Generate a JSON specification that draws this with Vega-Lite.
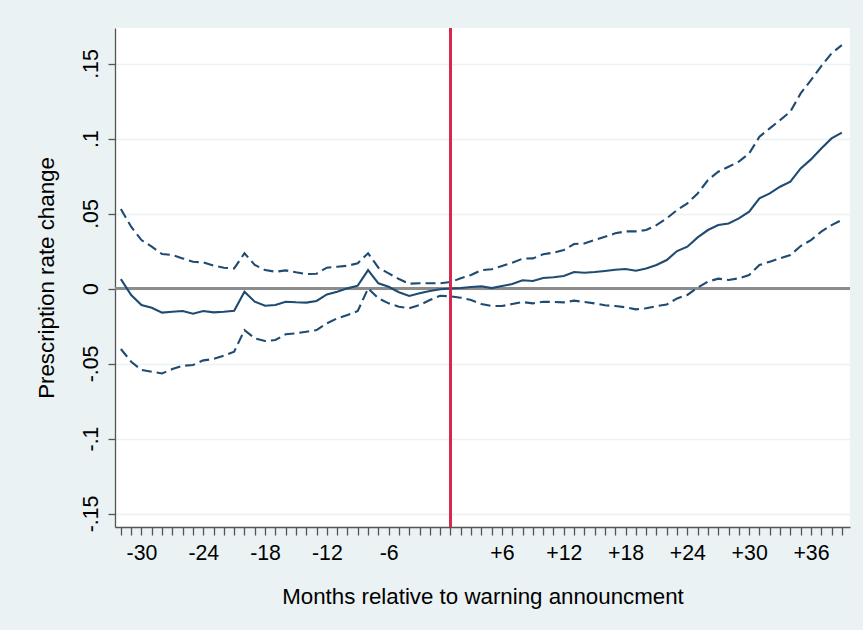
{
  "$schema": "https://vega.github.io/schema/vega-lite/v6.json",
  "width": 735,
  "height": 499,
  "autosize": "none",
  "padding": {"left": 115, "top": 28, "right": 13, "bottom": 103},
  "background": "#eaf2f3",
  "config": {
    "view": {"fill": "white", "stroke": null},
    "font": "Liberation Sans",
    "axis": {"labelFont": "Liberation Sans", "titleFont": "Liberation Sans", "labelColor": "#000", "titleColor": "#000", "titleFontWeight": "normal", "labelFontSize": 21.3, "titleFontSize": 22.3, "domainColor": "#555", "tickColor": "#555", "domainWidth": 1.3, "tickWidth": 1.3}
  },
  "data": {"values": [
    {"m": -32, "est": 0.0063, "hi": 0.053, "lo": -0.0403},
    {"m": -31, "est": -0.0043, "hi": 0.0412, "lo": -0.0488},
    {"m": -30, "est": -0.011, "hi": 0.0323, "lo": -0.0543},
    {"m": -29, "est": -0.0128, "hi": 0.0279, "lo": -0.0555},
    {"m": -28, "est": -0.0161, "hi": 0.023, "lo": -0.0566},
    {"m": -27, "est": -0.0155, "hi": 0.0223, "lo": -0.0537},
    {"m": -26, "est": -0.015, "hi": 0.0201, "lo": -0.0515},
    {"m": -25, "est": -0.0168, "hi": 0.0179, "lo": -0.051},
    {"m": -24, "est": -0.015, "hi": 0.0174, "lo": -0.0479},
    {"m": -23, "est": -0.0159, "hi": 0.0152, "lo": -0.047},
    {"m": -22, "est": -0.0155, "hi": 0.0139, "lo": -0.0448},
    {"m": -21, "est": -0.0148, "hi": 0.0134, "lo": -0.0421},
    {"m": -20, "est": -0.0021, "hi": 0.0235, "lo": -0.0277},
    {"m": -19, "est": -0.0088, "hi": 0.0157, "lo": -0.0332},
    {"m": -18, "est": -0.0115, "hi": 0.0123, "lo": -0.035},
    {"m": -17, "est": -0.011, "hi": 0.0112, "lo": -0.0343},
    {"m": -16, "est": -0.0088, "hi": 0.0121, "lo": -0.0305},
    {"m": -15, "est": -0.0092, "hi": 0.0108, "lo": -0.0299},
    {"m": -14, "est": -0.0094, "hi": 0.0097, "lo": -0.0288},
    {"m": -13, "est": -0.0083, "hi": 0.0099, "lo": -0.0277},
    {"m": -12, "est": -0.0039, "hi": 0.0139, "lo": -0.0232},
    {"m": -11, "est": -0.0021, "hi": 0.0145, "lo": -0.0199},
    {"m": -10, "est": 0.0001, "hi": 0.0152, "lo": -0.0177},
    {"m": -9, "est": 0.0019, "hi": 0.0168, "lo": -0.015},
    {"m": -8, "est": 0.0123, "hi": 0.0235, "lo": 0.0001},
    {"m": -7, "est": 0.0035, "hi": 0.0139, "lo": -0.0065},
    {"m": -6, "est": 0.0012, "hi": 0.0101, "lo": -0.0099},
    {"m": -5, "est": -0.0025, "hi": 0.0063, "lo": -0.0121},
    {"m": -4, "est": -0.005, "hi": 0.0032, "lo": -0.0132},
    {"m": -3, "est": -0.0032, "hi": 0.0035, "lo": -0.011},
    {"m": -2, "est": -0.0017, "hi": 0.0035, "lo": -0.0077},
    {"m": -1, "est": -0.0005, "hi": 0.0035, "lo": -0.0048},
    {"m": 0, "est": 0.0, "hi": 0.0043, "lo": -0.0052},
    {"m": 1, "est": 0.0003, "hi": 0.0068, "lo": -0.0061},
    {"m": 2, "est": 0.001, "hi": 0.009, "lo": -0.0077},
    {"m": 3, "est": 0.0015, "hi": 0.0123, "lo": -0.0103},
    {"m": 4, "est": 0.0003, "hi": 0.0128, "lo": -0.0117},
    {"m": 5, "est": 0.0017, "hi": 0.015, "lo": -0.0117},
    {"m": 6, "est": 0.003, "hi": 0.0172, "lo": -0.0103},
    {"m": 7, "est": 0.0055, "hi": 0.0199, "lo": -0.009},
    {"m": 8, "est": 0.005, "hi": 0.0201, "lo": -0.0099},
    {"m": 9, "est": 0.007, "hi": 0.0228, "lo": -0.0088},
    {"m": 10, "est": 0.0075, "hi": 0.0239, "lo": -0.009},
    {"m": 11, "est": 0.0083, "hi": 0.0257, "lo": -0.0092},
    {"m": 12, "est": 0.011, "hi": 0.0297, "lo": -0.0081},
    {"m": 13, "est": 0.0105, "hi": 0.0301, "lo": -0.009},
    {"m": 14, "est": 0.011, "hi": 0.0323, "lo": -0.0099},
    {"m": 15, "est": 0.0117, "hi": 0.0345, "lo": -0.0112},
    {"m": 16, "est": 0.0125, "hi": 0.0368, "lo": -0.0117},
    {"m": 17, "est": 0.013, "hi": 0.0381, "lo": -0.0125},
    {"m": 18, "est": 0.0119, "hi": 0.0381, "lo": -0.0139},
    {"m": 19, "est": 0.0134, "hi": 0.039, "lo": -0.0132},
    {"m": 20, "est": 0.0157, "hi": 0.0423, "lo": -0.0117},
    {"m": 21, "est": 0.019, "hi": 0.0468, "lo": -0.0106},
    {"m": 22, "est": 0.025, "hi": 0.0523, "lo": -0.0066},
    {"m": 23, "est": 0.0279, "hi": 0.0568, "lo": -0.0043},
    {"m": 24, "est": 0.0341, "hi": 0.0634, "lo": 0.0006},
    {"m": 25, "est": 0.039, "hi": 0.0723, "lo": 0.0046},
    {"m": 26, "est": 0.0423, "hi": 0.0779, "lo": 0.0066},
    {"m": 27, "est": 0.0434, "hi": 0.0812, "lo": 0.0057},
    {"m": 28, "est": 0.0468, "hi": 0.0846, "lo": 0.0068},
    {"m": 29, "est": 0.0512, "hi": 0.0901, "lo": 0.009},
    {"m": 30, "est": 0.0601, "hi": 0.1012, "lo": 0.0157},
    {"m": 31, "est": 0.0634, "hi": 0.1068, "lo": 0.0179},
    {"m": 32, "est": 0.0679, "hi": 0.1123, "lo": 0.0201},
    {"m": 33, "est": 0.0712, "hi": 0.1179, "lo": 0.0223},
    {"m": 34, "est": 0.0801, "hi": 0.1301, "lo": 0.0283},
    {"m": 35, "est": 0.0861, "hi": 0.139, "lo": 0.0323},
    {"m": 36, "est": 0.0934, "hi": 0.1483, "lo": 0.0379},
    {"m": 37, "est": 0.1001, "hi": 0.1568, "lo": 0.0423},
    {"m": 38, "est": 0.1039, "hi": 0.1623, "lo": 0.0457}
  ]},
  "layer": [
    {
      "mark": {"type": "rule", "color": "#8c8c8c", "strokeWidth": 1.8},
      "encoding": {"y": {"datum": 0, "type": "quantitative"}}
    },
    {
      "mark": {"type": "line", "color": "#1f4b73", "strokeWidth": 2.1},
      "encoding": {
        "x": {
          "field": "m", "type": "quantitative",
          "scale": {"domain": [-32.57, 38.79], "nice": false, "zero": false},
          "axis": {
            "title": "Months relative to warning announcment",
            "values": [-32,-31,-30,-29,-28,-27,-26,-25,-24,-23,-22,-21,-20,-19,-18,-17,-16,-15,-14,-13,-12,-11,-10,-9,-8,-7,-6,-5,-4,-3,-2,-1,0,1,2,3,4,5,6,7,8,9,10,11,12,13,14,15,16,17,18,19,20,21,22,23,24,25,26,27,28,29,30,31,32,33,34,35,36,37,38],
            "tickCount": 200,
            "labelExpr": "datum.value < 0 && datum.value % 6 == 0 ? toString(datum.value) : (datum.value > 0 && (datum.value + 1) % 6 == 0 ? '+' + toString(datum.value + 1) : '')",
            "labelBaseline": "alphabetic",
            "labelPadding": 24,
            "labelFlush": false,
            "labelOverlap": false,
            "tickSize": 8,
            "grid": false,
            "titleBaseline": "alphabetic",
            "titleY": 76,
            "titleX": 367.5,
            "titleAlign": "center"
          }
        },
        "y": {
          "field": "est", "type": "quantitative",
          "scale": {"domain": [-0.159, 0.1737], "nice": false, "zero": false},
          "axis": {
            "title": "Prescription rate change",
            "values": [-0.15, -0.1, -0.05, 0, 0.05, 0.1, 0.15],
            "labelExpr": "(datum.value < 0 ? '-' : '') + replace(toString(abs(datum.value)), '0.', '.')",
            "labelAngle": 270,
            "labelAlign": "center",
            "labelBaseline": "alphabetic",
            "labelPadding": 11,
            "tickSize": 7,
            "grid": true,
            "gridColor": "#eaf2f3",
            "gridWidth": 1.5,
            "titleAngle": 270,
            "titleBaseline": "alphabetic",
            "titleAlign": "center",
            "titleX": -62,
            "titleY": 249.5
          }
        }
      }
    },
    {
      "mark": {"type": "line", "color": "#1f4b73", "strokeWidth": 2.1, "strokeDash": [10, 5]},
      "encoding": {
        "x": {"field": "m", "type": "quantitative"},
        "y": {"field": "hi", "type": "quantitative"}
      }
    },
    {
      "mark": {"type": "line", "color": "#1f4b73", "strokeWidth": 2.1, "strokeDash": [10, 5]},
      "encoding": {
        "x": {"field": "m", "type": "quantitative"},
        "y": {"field": "lo", "type": "quantitative"}
      }
    },
    {
      "mark": {"type": "rule", "color": "#d42a4f", "strokeWidth": 1.6},
      "encoding": {"x": {"datum": 0, "type": "quantitative"}}
    }
  ]
}
